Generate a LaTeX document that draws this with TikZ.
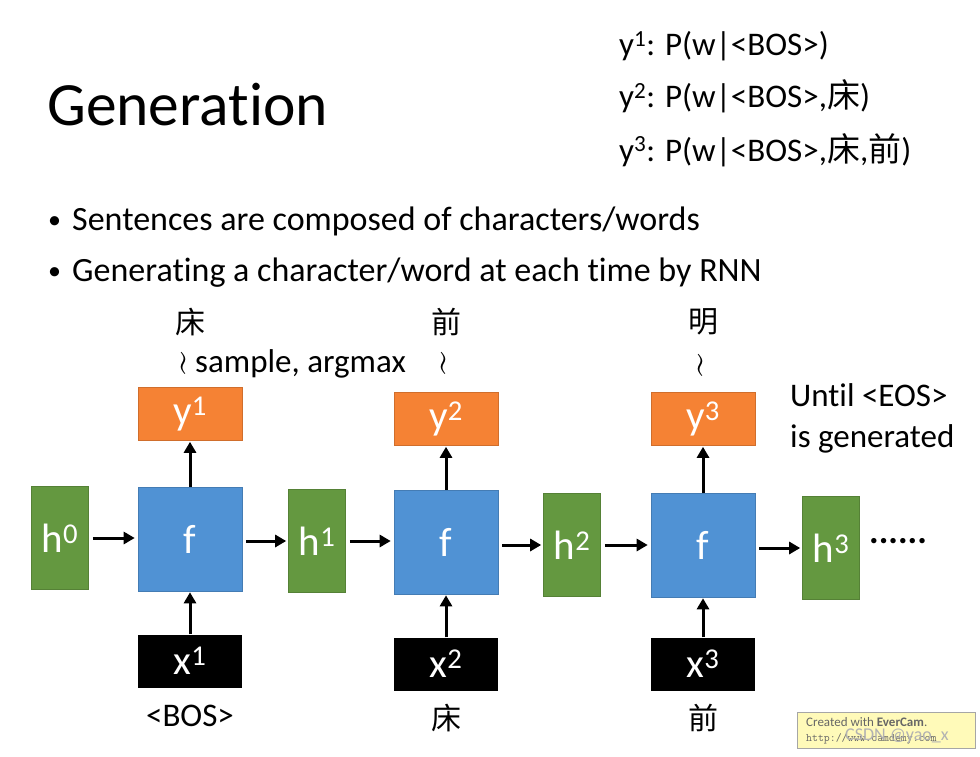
\documentclass[tikz,border=0pt]{standalone}
\usepackage{fontspec}
\setmainfont[RawFeature=-liga]{Carlito}
\newfontfamily\cjk{Noto Sans CJK SC}
\newfontfamily\lmfont{Latin Modern Roman}
\usetikzlibrary{arrows.meta}
\definecolor{hgreen}{RGB}{100,152,64}
\definecolor{fblue}{RGB}{80,146,212}
\definecolor{yorange}{RGB}{245,130,52}
\definecolor{evbg}{RGB}{255,250,185}
\newcommand{\vwave}{\rotatebox{90}{\lmfont\fontsize{40}{40}\selectfont\textasciitilde}}
\begin{document}
\begin{tikzpicture}[x=1pt,y=-1pt,
  lbl/.style={text=white, font=\fontsize{41}{44}\selectfont, inner sep=0pt},
  hbox/.style={lbl, fill=hgreen, draw=hgreen!85!black, line width=0.6pt, minimum width=57pt, minimum height=103pt},
  fbox/.style={lbl, fill=fblue, draw=fblue!85!black, line width=0.6pt, minimum width=104pt, minimum height=104pt},
  ybox/.style={lbl, fill=yorange, draw=yorange!85!black, line width=0.6pt, minimum width=104pt, minimum height=53pt},
  xbox/.style={lbl, fill=black, minimum width=104pt, minimum height=53pt},
  txt/.style={font=\fontsize{33}{38}\selectfont, inner sep=0pt},
  ctxt/.style={font=\cjk\fontsize{30}{34}\selectfont, inner sep=0pt},
  bul/.style={font=\fontsize{34}{38}\selectfont, inner sep=0pt},
  wave/.style={inner sep=0pt},
  flow/.style={line width=3pt, -{Triangle[length=11pt,width=12pt]}}
]
\fill[white] (0,0) rectangle (980,757);
\useasboundingbox (0,0) rectangle (980,757);

% title and bullets
\node[anchor=base west, font=\fontsize{61.5}{64}\selectfont, inner sep=0pt] (title) at (47,126) {Generation};
\node[anchor=base west, font=\fontsize{26}{28}\selectfont, inner sep=0pt] (d1) at (48,228) {•};
\node[anchor=base west, bul] (b1) at (72,230) {Sentences are composed of characters/words};
\node[anchor=base west, font=\fontsize{26}{28}\selectfont, inner sep=0pt] (d2) at (48,279) {•};
\node[anchor=base west, bul] (b2) at (72,281) {Generating a character/word at each time by RNN};

% probabilities
\node[anchor=base west, txt] (p1) at (619,56) {y\textsuperscript{1}: P(w|<BOS>)};
\node[anchor=base west, txt] (p2) at (619,108) {y\textsuperscript{2}: P(w|<BOS>,{\cjk 床})};
\node[anchor=base west, txt] (p3) at (619,161) {y\textsuperscript{3}: P(w|<BOS>,{\cjk 床},{\cjk 前})};

% hidden states
\node[hbox] (h0) at (60,538) {h\textsuperscript{0}};
\node[hbox] (h1) at (317,541) {h\textsuperscript{1}};
\node[hbox] (h2) at (572,545) {h\textsuperscript{2}};
\node[hbox] (h3) at (831,548) {h\textsuperscript{3}};
\node[anchor=west, font=\fontsize{36}{38}\selectfont\bfseries, inner sep=0pt] (dots) at (869,541) {......};

% f blocks
\node[fbox] (f1) at (190,539) {f};
\node[fbox] (f2) at (446,542) {f};
\node[fbox] (f3) at (703,545) {f};

% outputs
\node[ybox] (y1) at (190,414) {y\textsuperscript{1}};
\node[ybox] (y2) at (446,419) {y\textsuperscript{2}};
\node[ybox] (y3) at (703,419) {y\textsuperscript{3}};

% inputs
\node[xbox] (x1) at (190,661) {x\textsuperscript{1}};
\node[xbox] (x2) at (446,664) {x\textsuperscript{2}};
\node[xbox] (x3) at (703,664) {x\textsuperscript{3}};

% labels below
\node[txt] (l1) at (190,716) {<BOS>};
\node[ctxt] (l2) at (446,718) {床};
\node[ctxt] (l3) at (703,718) {前};

% labels above
\node[ctxt] (c1) at (190,322) {床};
\node[ctxt] (c2) at (446,322) {前};
\node[ctxt] (c3) at (703,322) {明};
\node[wave] (t1) at (187,363) {\vwave};
\node[wave] (t2) at (447,363) {\vwave};
\node[wave] (t3) at (704,365) {\vwave};
\node[txt, anchor=base west] (samp) at (195,372) {sample, argmax};

\node[txt, anchor=base west] (u1) at (790,406) {Until <EOS>};
\node[txt, anchor=base west] (u2) at (790,447) {is generated};

% connectors
\draw[flow, shorten <=4pt, shorten >=3pt] (h0.east) -- (f1.west |- h0.east);
\draw[flow, shorten <=4pt, shorten >=2pt] (f1.east |- h1.west) -- (h1.west);
\draw[flow, shorten <=4pt, shorten >=3pt] (h1.east) -- (f2.west |- h1.east);
\draw[flow, shorten <=4pt, shorten >=2pt] (f2.east |- h2.west) -- (h2.west);
\draw[flow, shorten <=4pt, shorten >=3pt] (h2.east) -- (f3.west |- h2.east);
\draw[flow, shorten <=4pt, shorten >=2pt] (f3.east |- h3.west) -- (h3.west);

\draw[flow, shorten >=1pt] (f1.north) -- (y1.south);
\draw[flow, shorten >=1pt] (f2.north) -- (y2.south);
\draw[flow, shorten >=1pt] (f3.north) -- (y3.south);
\draw[flow, shorten >=1pt] (x1.north) -- (f1.south);
\draw[flow, shorten >=1pt] (x2.north) -- (f2.south);
\draw[flow, shorten >=1pt] (x3.north) -- (f3.south);

% EverCam stamp
\node[fill=evbg, draw=gray!70, line width=0.6pt, minimum width=178pt, minimum height=36pt, inner sep=0pt] (ev) at (886,730) {};
\node[anchor=west, text=gray!80!black, font=\fontsize{13}{14}\selectfont, inner sep=0pt] (ev1) at (806,722) {Created with \textbf{EverCam}.};
\node[anchor=west, text=gray!80!black, font=\ttfamily\fontsize{11.5}{12}\selectfont, inner sep=0pt] (ev2) at (806,739) {http://www.camdemy.com};
\node[anchor=west, text=gray!60, font=\fontsize{18}{18}\selectfont, inner sep=0pt] (csdn) at (845,736) {CSDN @yao\_x};
\end{tikzpicture}
\end{document}
